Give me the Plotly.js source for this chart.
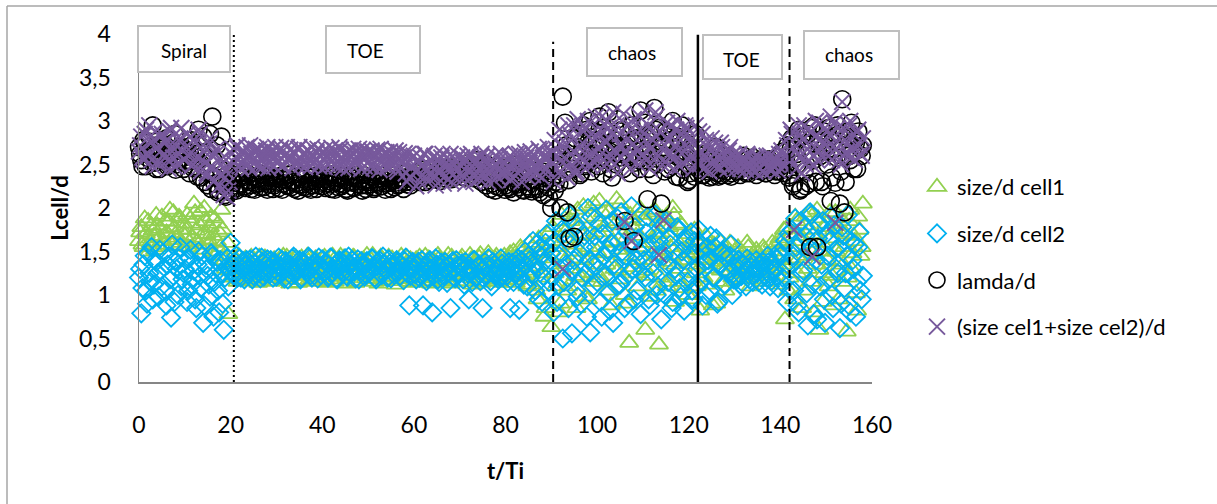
<!DOCTYPE html>
<html>
<head>
<meta charset="utf-8">
<script src="https://cdn.plot.ly/plotly-3.0.1.min.js"></script>
<style>html,body{margin:0;padding:0;background:#fff;}#chart{width:1217px;height:504px;}</style>
</head>
<body>
<div id="chart"></div>
<script>
// ---- data: t/Ti sampled every DT; "A" samples start at t=0, "B" samples are offset by DT/2 ----
const DT = 0.5;
const seriesNames = ["size/d cell1", "size/d cell2", "lamda/d", "(size cel1+size cel2)/d"];

const cell1A = [
1.62,1.78,1.55,1.70,1.85,1.60,1.74,1.52,1.80,1.66,1.90,1.58,1.72,1.84,1.63,1.95,1.70,1.56,1.88,1.75,
1.68,1.92,1.60,1.82,2.05,1.74,1.58,1.96,1.70,1.85,1.64,1.78,1.50,1.88,1.62,1.72,1.98,1.45,1.30,0.78,
1.35,1.22,1.42,1.15,1.30,1.40,1.18,1.36,1.25,1.44,1.20,1.32,1.14,1.38,1.27,1.43,1.19,1.34,1.24,1.41,
1.16,1.37,1.28,1.45,1.21,1.33,1.13,1.40,1.26,1.35,1.17,1.43,1.29,1.22,1.39,1.15,1.31,1.42,1.20,1.36,
1.25,1.44,1.14,1.34,1.23,1.40,1.18,1.30,1.45,1.21,1.37,1.13,1.32,1.27,1.43,1.16,1.35,1.24,1.41,1.19,
1.33,1.22,1.46,1.15,1.38,1.26,1.42,1.17,1.31,1.44,1.20,1.36,1.12,1.40,1.28,1.34,1.18,1.43,1.23,1.37,
1.14,1.41,1.27,1.33,1.19,1.45,1.22,1.36,1.15,1.39,1.29,1.42,1.17,1.32,1.25,1.46,1.13,1.38,1.21,1.35,
1.24,1.44,1.16,1.37,1.28,1.41,1.12,1.34,1.20,1.47,1.23,1.39,1.15,1.43,1.30,1.18,1.45,1.26,1.36,1.14,
1.40,1.22,1.48,1.31,1.17,1.44,1.27,1.52,1.20,1.38,1.46,1.12,1.55,1.33,0.95,1.50,1.25,0.75,1.42,1.58,
0.63,1.62,1.10,1.85,0.90,1.45,1.72,1.05,1.95,1.30,1.58,0.85,1.80,1.20,2.02,1.40,0.95,1.70,1.25,1.90,
1.50,2.08,1.15,1.78,1.35,1.95,0.88,1.62,1.82,1.28,2.05,1.45,1.00,1.75,0.45,1.88,1.32,1.68,1.10,1.92,
1.40,0.60,1.85,1.22,1.65,1.98,1.05,0.43,1.72,1.38,1.90,1.15,1.55,2.00,0.92,1.62,1.30,1.80,1.08,1.48,
1.70,0.95,1.52,1.25,1.60,0.82,1.42,1.55,1.12,1.48,1.35,1.58,0.90,1.45,1.28,1.52,1.05,1.40,1.60,1.20,
1.50,1.32,1.18,1.46,1.38,1.25,1.55,1.10,1.42,1.30,1.48,1.22,1.36,1.52,1.15,1.44,1.28,1.40,1.58,1.12,
1.62,1.35,0.72,1.78,1.20,1.55,0.95,1.85,1.42,1.68,1.05,1.90,1.30,1.75,1.48,0.80,1.98,0.60,1.60,1.25,
1.82,1.10,1.65,0.88,1.95,1.38,1.72,1.15,1.55,0.58,1.85,1.30,1.68,1.02,1.90,1.45,2.05
];
const cell1B = [
1.72,1.58,1.88,1.65,1.50,1.80,1.68,1.92,1.55,1.76,1.62,1.85,1.70,1.98,1.57,1.78,1.66,1.90,1.60,1.82,
1.75,1.55,1.88,1.66,1.95,1.62,1.80,1.52,2.00,1.70,1.58,1.90,1.68,1.45,1.82,1.55,1.75,1.40,1.60,1.28,
1.20,1.38,1.28,1.45,1.17,1.33,1.42,1.22,1.35,1.16,1.40,1.26,1.44,1.19,1.36,1.23,1.41,1.15,1.30,1.39,
1.24,1.42,1.18,1.34,1.44,1.20,1.37,1.27,1.43,1.14,1.32,1.39,1.22,1.45,1.18,1.35,1.26,1.41,1.16,1.33,
1.42,1.17,1.36,1.28,1.45,1.15,1.39,1.24,1.33,1.43,1.19,1.38,1.26,1.44,1.14,1.35,1.22,1.40,1.29,1.46,
1.18,1.40,1.25,1.35,1.13,1.44,1.21,1.37,1.28,1.16,1.42,1.24,1.39,1.19,1.45,1.22,1.36,1.15,1.41,1.27,
1.37,1.20,1.44,1.16,1.35,1.26,1.42,1.13,1.38,1.23,1.46,1.18,1.34,1.40,1.15,1.30,1.44,1.21,1.37,1.26,
1.41,1.15,1.35,1.22,1.46,1.19,1.38,1.27,1.43,1.14,1.36,1.24,1.48,1.20,1.33,1.42,1.16,1.39,1.25,1.45,
1.18,1.43,1.30,1.50,1.14,1.36,1.55,1.22,1.45,1.10,1.60,1.28,1.40,1.05,1.65,1.20,1.48,0.85,1.70,1.35,
1.78,1.25,1.55,0.80,1.92,1.38,1.65,1.10,1.85,1.50,1.22,1.98,1.42,1.68,0.98,1.88,1.55,1.15,2.05,1.35,
1.72,1.20,1.95,1.48,1.05,1.85,1.60,1.30,2.10,1.52,1.18,1.80,1.65,0.90,1.92,1.40,1.75,1.25,2.00,1.55,
1.85,1.28,1.60,0.98,1.95,1.45,1.70,1.20,1.88,1.52,1.10,1.78,1.35,1.92,1.45,1.15,1.82,1.40,1.65,1.00,
1.55,1.35,1.75,1.10,1.62,1.40,1.20,1.68,1.30,1.58,0.88,1.50,1.38,1.62,1.15,1.45,1.55,1.25,1.48,1.35,
1.40,1.55,1.28,1.48,1.20,1.60,1.35,1.45,1.25,1.52,1.18,1.42,1.55,1.30,1.48,1.22,1.60,1.35,1.45,1.65,
1.30,1.75,1.50,1.05,1.68,1.40,1.90,1.25,1.62,0.85,1.80,1.45,1.95,1.15,1.70,1.35,1.88,1.50,0.92,1.78,
1.40,1.95,1.22,1.75,1.50,0.95,1.88,1.35,1.70,1.20,1.98,1.48,1.62,0.82,1.75,1.55
];

const cell2A = [
1.20,0.79,1.35,1.05,1.48,1.15,0.95,1.40,1.25,1.52,1.10,1.32,0.88,1.45,0.74,1.22,1.38,1.00,1.55,1.18,
1.30,0.92,1.42,1.12,1.28,0.85,1.50,1.08,0.68,1.35,1.22,0.98,1.45,1.15,1.38,0.80,1.25,0.60,1.32,1.10,
1.60,1.25,1.38,1.20,1.42,1.30,1.18,1.40,1.28,1.35,1.22,1.44,1.32,1.19,1.38,1.26,1.41,1.24,1.36,1.30,
1.21,1.43,1.33,1.27,1.39,1.18,1.35,1.42,1.24,1.31,1.40,1.20,1.37,1.29,1.44,1.23,1.34,1.38,1.19,1.32,
1.41,1.26,1.36,1.22,1.43,1.30,1.19,1.38,1.33,1.25,1.42,1.21,1.35,1.40,1.27,1.31,1.18,1.39,1.34,1.24,
1.37,1.28,1.42,1.20,1.33,1.40,1.23,1.36,1.29,1.41,1.19,1.34,1.26,1.38,1.22,1.32,1.39,1.25,0.88,1.35,
1.30,1.18,1.38,1.24,0.88,1.33,1.20,1.40,0.80,1.28,1.35,1.15,1.37,1.22,1.31,1.26,0.85,1.39,1.19,1.34,
1.25,1.36,1.12,1.32,0.95,1.28,1.40,1.20,1.33,1.16,0.85,1.38,1.23,1.30,1.10,1.35,1.27,1.18,1.42,1.22,
1.31,1.15,0.85,1.37,1.24,1.29,0.83,1.40,1.12,1.34,1.45,1.20,1.62,1.05,1.30,1.55,0.92,1.38,1.70,1.15,
1.48,0.80,1.85,1.10,1.30,0.50,1.65,1.20,1.92,0.56,1.40,1.05,1.75,0.90,1.55,1.25,2.00,0.57,1.35,1.68,
1.15,1.82,0.75,1.45,1.98,1.02,1.60,0.68,1.30,1.88,1.12,1.50,0.85,1.72,1.25,2.02,0.95,1.40,1.65,0.78,
1.55,1.20,1.90,0.88,1.35,1.70,1.00,1.62,0.72,1.45,1.85,1.15,1.58,0.92,1.30,1.78,1.08,1.50,0.82,1.65,
1.25,1.72,0.95,1.48,1.10,1.60,0.88,1.38,1.55,1.05,1.42,1.20,1.65,0.92,1.35,1.50,1.12,1.28,1.45,1.00,
1.32,1.18,1.40,1.22,1.35,1.10,1.28,1.38,1.15,1.30,1.25,1.36,1.12,1.33,1.20,1.38,1.16,1.29,1.42,1.08,
1.45,1.20,1.62,0.92,1.38,1.75,1.05,1.55,0.80,1.85,1.28,1.68,0.65,1.95,1.12,1.50,0.72,1.80,1.35,0.95,
1.70,1.18,1.90,0.85,1.52,1.25,0.62,1.78,1.08,1.45,0.88,1.62,1.30,0.75,1.55,1.05,1.22
];
const cell2B = [
1.30,1.08,1.45,0.90,1.25,1.55,1.12,1.38,0.98,1.28,1.48,1.05,1.35,1.18,1.58,0.92,1.30,1.42,1.10,1.25,
1.40,1.05,1.52,1.18,0.95,1.35,1.22,1.45,0.88,1.30,1.12,1.48,0.75,1.25,1.05,1.40,0.90,1.20,1.42,1.28,
1.35,1.22,1.45,1.28,1.20,1.39,1.33,1.24,1.41,1.18,1.36,1.30,1.25,1.43,1.21,1.34,1.29,1.40,1.20,1.37,
1.33,1.24,1.40,1.19,1.36,1.30,1.22,1.44,1.27,1.35,1.18,1.39,1.31,1.25,1.42,1.20,1.37,1.28,1.43,1.23,
1.30,1.38,1.20,1.43,1.26,1.34,1.18,1.40,1.29,1.36,1.22,1.44,1.25,1.32,1.19,1.41,1.28,1.35,1.21,1.39,
1.26,1.42,1.31,1.18,1.38,1.24,1.44,1.29,1.20,1.36,1.32,1.23,1.40,1.27,1.35,1.17,1.43,1.30,1.22,1.38,
1.24,1.35,1.20,1.40,1.28,1.16,1.37,1.30,1.22,1.42,1.18,1.33,1.26,1.38,1.14,1.35,1.28,1.21,1.40,1.25,
1.32,1.18,1.38,1.25,1.30,1.15,1.40,1.22,1.35,1.28,1.19,1.33,1.42,1.16,1.38,1.24,1.30,1.20,1.36,1.27,
1.22,1.38,1.28,1.15,1.35,1.42,1.20,1.30,1.50,1.10,1.40,1.25,1.35,1.58,0.95,1.45,1.22,1.60,1.05,1.40,
1.20,1.62,0.92,1.45,1.75,1.15,1.35,0.85,1.58,1.28,1.82,0.98,1.48,1.20,1.68,0.75,1.40,1.90,1.10,1.55,
1.38,0.92,1.70,1.22,1.52,0.82,1.85,1.35,1.10,1.62,1.95,1.18,1.45,0.90,1.58,1.30,1.78,1.05,1.50,1.25,
1.40,1.72,0.95,1.58,1.25,1.92,1.10,1.45,1.80,1.00,1.35,1.65,0.85,1.50,1.22,1.75,0.98,1.40,1.62,1.15,
1.45,1.05,1.62,1.30,1.75,1.15,1.50,1.00,1.40,1.68,1.20,1.55,0.90,1.35,1.48,1.12,1.42,1.25,1.58,1.18,
1.22,1.40,1.12,1.35,1.28,1.42,1.18,1.32,1.25,1.40,1.15,1.30,1.38,1.22,1.45,1.10,1.35,1.28,1.20,1.50,
1.15,1.55,1.30,1.70,1.05,1.45,1.88,0.88,1.62,1.25,1.78,1.02,1.50,1.92,0.78,1.40,1.65,1.10,1.85,0.68,
1.45,1.62,1.00,1.80,1.30,1.55,0.90,1.68,1.25,1.92,0.80,1.40,1.58,1.15,1.72,0.95
];

const lamdaA = [
2.70,2.55,2.78,2.48,2.65,2.60,2.95,2.52,2.72,2.45,2.68,2.58,2.80,2.50,2.62,2.75,2.44,2.66,2.56,2.70,
2.52,2.64,2.40,2.72,2.48,2.58,2.90,2.35,2.82,2.42,2.26,2.85,3.05,2.28,2.72,2.20,2.82,2.25,2.13,2.30,
2.18,2.32,2.22,2.38,2.28,2.35,2.25,2.40,2.30,2.22,2.36,2.27,2.33,2.24,2.38,2.29,2.21,2.35,2.31,2.26,
2.34,2.23,2.37,2.28,2.32,2.25,2.39,2.30,2.22,2.36,2.27,2.33,2.24,2.38,2.29,2.21,2.35,2.31,2.26,2.37,
2.25,2.33,2.28,2.38,2.22,2.35,2.30,2.24,2.37,2.27,2.32,2.20,2.36,2.29,2.23,2.34,2.31,2.26,2.38,2.22,
2.33,2.27,2.36,2.24,2.30,2.38,2.25,2.32,2.28,2.35,2.22,2.37,2.29,2.26,2.34,2.31,2.40,2.27,2.36,2.30,
2.38,2.32,2.42,2.35,2.45,2.30,2.40,2.36,2.44,2.33,2.41,2.37,2.46,2.34,2.43,2.39,2.47,2.35,2.42,2.38,
2.44,2.36,2.48,2.40,2.52,2.38,2.45,2.42,2.55,2.37,2.46,2.41,2.50,2.32,2.28,2.44,2.25,2.48,2.30,2.42,
2.26,2.45,2.22,2.40,2.28,2.50,2.24,2.36,2.20,2.44,2.30,2.22,2.48,2.25,2.38,2.18,2.42,2.27,2.35,2.12,
2.00,2.45,2.30,2.60,2.00,3.28,2.98,1.95,1.65,2.55,1.67,2.70,2.85,2.40,2.95,2.50,2.75,3.00,2.62,2.88,
2.78,3.05,2.55,2.92,2.65,3.10,2.45,2.85,2.70,3.02,2.58,2.90,1.85,2.75,2.62,2.95,1.62,2.80,2.55,3.12,
2.72,2.98,2.10,2.85,2.60,3.15,2.50,2.92,2.05,2.70,2.88,2.45,2.78,3.00,2.55,2.82,2.35,2.95,2.62,2.75,
2.32,2.68,2.50,2.85,2.40,2.55,2.38,2.62,2.45,2.35,2.58,2.42,2.70,2.36,2.52,2.44,2.60,2.38,2.48,2.40,
2.55,2.42,2.50,2.46,2.60,2.40,2.52,2.45,2.58,2.43,2.48,2.55,2.44,2.50,2.40,2.56,2.47,2.52,2.42,2.58,
2.50,2.65,2.45,2.72,2.38,2.80,2.28,2.62,2.90,2.22,2.70,2.25,2.85,1.55,2.60,2.95,1.55,2.75,2.30,2.88,
2.65,2.92,2.08,2.78,2.29,2.95,2.05,3.25,1.95,2.82,2.60,2.98,2.45,2.75,2.88,2.68,2.72
];
const lamdaB = [
2.62,2.48,2.75,2.58,2.82,2.52,2.68,2.45,2.78,2.60,2.55,2.72,2.48,2.65,2.58,2.85,2.50,2.70,2.62,2.45,
2.66,2.55,2.78,2.46,2.62,2.36,2.72,2.50,2.30,2.65,2.40,2.22,2.55,2.35,2.18,2.45,2.28,2.15,2.38,2.20,
2.25,2.30,2.20,2.34,2.27,2.38,2.23,2.32,2.26,2.36,2.21,2.33,2.28,2.39,2.24,2.31,2.27,2.37,2.22,2.34,
2.29,2.36,2.21,2.33,2.26,2.38,2.24,2.32,2.28,2.20,2.35,2.27,2.39,2.23,2.31,2.26,2.37,2.22,2.33,2.29,
2.36,2.23,2.31,2.27,2.39,2.21,2.34,2.28,2.25,2.37,2.22,2.30,2.35,2.24,2.38,2.27,2.33,2.20,2.32,2.26,
2.30,2.36,2.22,2.33,2.28,2.25,2.37,2.21,2.34,2.29,2.38,2.24,2.32,2.27,2.35,2.22,2.30,2.36,2.26,2.33,
2.34,2.40,2.30,2.44,2.36,2.42,2.32,2.46,2.38,2.35,2.43,2.31,2.40,2.45,2.36,2.41,2.33,2.44,2.38,2.42,
2.40,2.46,2.35,2.43,2.38,2.48,2.34,2.41,2.45,2.30,2.39,2.26,2.44,2.22,2.36,2.20,2.40,2.24,2.35,2.21,
2.38,2.24,2.42,2.18,2.34,2.27,2.40,2.21,2.46,2.25,2.36,2.19,2.32,2.43,2.22,2.38,2.15,2.30,2.24,2.40,
2.35,2.20,2.50,2.28,2.62,2.40,2.72,2.32,2.58,2.45,2.80,2.52,2.38,2.68,2.48,2.90,2.55,2.42,2.78,2.60,
2.48,2.70,2.40,2.82,2.55,2.65,2.35,2.78,2.50,2.62,2.88,2.45,2.70,2.58,2.40,2.76,2.52,2.85,2.45,2.66,
2.55,2.80,2.45,2.68,2.38,2.90,2.52,2.62,2.75,2.42,2.60,2.85,2.48,2.70,2.36,2.58,2.78,2.44,2.65,2.30,
2.40,2.55,2.36,2.62,2.44,2.50,2.38,2.58,2.42,2.48,2.36,2.55,2.40,2.46,2.38,2.52,2.42,2.48,2.36,2.50,
2.44,2.52,2.38,2.48,2.42,2.55,2.40,2.50,2.44,2.38,2.52,2.42,2.48,2.40,2.55,2.44,2.50,2.38,2.46,2.42,
2.48,2.40,2.58,2.35,2.68,2.25,2.75,2.50,2.20,2.82,2.42,2.65,2.28,2.92,2.55,2.30,2.78,2.60,2.25,2.70,
2.50,2.80,2.35,2.68,2.58,2.85,2.42,2.72,2.30,2.88,2.55,2.65,2.78,2.45,2.70,2.60
];

const sumA = [
2.65,2.82,2.55,2.90,2.60,2.75,2.48,2.88,2.70,2.52,2.85,2.62,2.78,2.45,2.92,2.58,2.72,2.50,2.80,2.66,
2.55,2.85,2.62,2.48,2.78,2.58,2.90,2.42,2.72,2.52,2.38,2.80,2.60,2.32,2.68,2.25,2.50,2.15,2.42,2.20,
2.50,2.68,2.58,2.72,2.48,2.65,2.55,2.70,2.46,2.62,2.56,2.68,2.50,2.64,2.47,2.60,2.70,2.52,2.66,2.48,
2.63,2.55,2.69,2.49,2.61,2.57,2.67,2.46,2.64,2.53,2.70,2.50,2.62,2.58,2.66,2.48,2.60,2.55,2.68,2.51,
2.64,2.47,2.61,2.56,2.69,2.50,2.63,2.54,2.67,2.46,2.60,2.58,2.66,2.49,2.62,2.53,2.68,2.45,2.59,2.57,
2.65,2.48,2.62,2.52,2.67,2.44,2.60,2.55,2.64,2.47,2.58,2.50,2.66,2.42,2.57,2.53,2.63,2.30,2.55,2.48,
2.60,2.25,2.52,2.58,2.38,2.62,2.45,2.55,2.35,2.60,2.48,2.40,2.58,2.28,2.52,2.45,2.62,2.38,2.55,2.32,
2.50,2.58,2.35,2.55,2.45,2.62,2.30,2.52,2.40,2.58,2.48,2.36,2.60,2.42,2.55,2.32,2.50,2.45,2.62,2.38,
2.52,2.40,2.60,2.35,2.55,2.46,2.62,2.30,2.50,2.58,2.42,2.65,2.38,2.55,2.48,2.66,2.35,2.60,2.45,2.62,
2.55,2.30,2.68,2.40,2.62,1.30,2.75,2.35,2.85,2.50,2.95,2.42,2.70,2.58,2.88,2.45,3.00,2.62,2.78,2.52,
2.82,2.60,3.05,2.48,2.75,2.92,2.55,3.10,2.65,2.40,2.85,2.70,1.84,2.95,2.58,1.62,3.02,2.68,2.50,2.90,
2.62,3.12,2.75,2.45,2.88,2.55,3.05,1.46,2.68,1.86,2.80,2.50,2.95,2.60,2.72,3.00,2.48,2.85,2.65,2.92,
2.55,2.78,2.45,2.95,2.62,2.50,2.85,2.58,2.70,2.42,2.80,2.55,2.65,2.48,2.75,2.52,2.62,2.45,2.70,2.50,
2.58,2.46,2.62,2.50,2.55,2.44,2.60,2.48,2.52,2.42,2.58,2.46,2.55,2.50,2.60,2.45,2.52,2.48,2.56,2.43,
2.55,2.62,2.48,2.72,2.58,2.85,1.75,2.45,2.95,2.60,2.78,2.50,2.90,2.65,1.44,2.82,2.55,2.98,2.68,2.75,
2.88,2.60,3.05,2.70,1.83,2.92,2.55,3.22,2.78,2.65,2.95,2.58,2.85,2.72,2.90,2.62,2.80
];
const sumB = [
2.72,2.58,2.85,2.62,2.95,2.55,2.78,2.68,2.50,2.82,2.60,2.75,2.55,2.88,2.65,2.48,2.80,2.62,2.92,2.56,
2.70,2.60,2.82,2.50,2.75,2.45,2.85,2.55,2.65,2.40,2.74,2.48,2.30,2.62,2.40,2.55,2.22,2.35,2.12,2.30,
2.62,2.52,2.70,2.56,2.45,2.66,2.58,2.50,2.72,2.54,2.64,2.48,2.68,2.58,2.52,2.66,2.46,2.62,2.56,2.70,
2.52,2.66,2.48,2.60,2.70,2.54,2.58,2.65,2.50,2.68,2.56,2.62,2.47,2.66,2.54,2.70,2.52,2.64,2.48,2.60,
2.56,2.68,2.50,2.62,2.54,2.66,2.48,2.70,2.58,2.52,2.64,2.46,2.60,2.68,2.55,2.50,2.62,2.66,2.48,2.64,
2.54,2.66,2.46,2.60,2.56,2.68,2.50,2.62,2.48,2.65,2.55,2.60,2.45,2.64,2.52,2.58,2.40,2.62,2.36,2.58,
2.42,2.55,2.30,2.48,2.62,2.32,2.50,2.40,2.58,2.26,2.54,2.44,2.62,2.36,2.48,2.56,2.30,2.50,2.42,2.60,
2.40,2.52,2.28,2.60,2.44,2.38,2.56,2.48,2.34,2.62,2.40,2.55,2.30,2.50,2.44,2.60,2.36,2.56,2.42,2.52,
2.44,2.58,2.32,2.50,2.62,2.40,2.55,2.45,2.64,2.36,2.52,2.44,2.60,2.40,2.68,2.50,2.58,2.44,2.70,2.52,
2.62,2.78,2.45,2.90,2.55,2.70,2.48,2.95,2.62,2.80,2.40,3.02,2.68,2.55,2.92,2.70,2.50,2.85,2.62,3.05,
2.68,2.90,2.55,2.78,3.00,2.62,2.85,2.50,2.95,2.72,2.58,3.08,2.66,2.80,2.45,2.92,2.62,2.78,3.05,2.60,
2.85,2.55,2.95,2.68,2.78,3.10,2.60,2.88,2.50,2.72,2.98,2.62,2.82,2.45,2.90,2.66,2.78,2.52,2.95,2.70,
2.82,2.60,2.72,2.52,2.88,2.65,2.45,2.78,2.55,2.68,2.50,2.75,2.58,2.45,2.70,2.60,2.52,2.66,2.48,2.62,
2.50,2.60,2.45,2.55,2.48,2.62,2.52,2.44,2.58,2.50,2.46,2.56,2.42,2.54,2.48,2.60,2.44,2.55,2.50,2.62,
2.66,2.48,2.78,2.58,2.90,2.50,2.72,2.62,2.85,2.40,2.95,2.68,2.55,2.88,2.48,3.00,2.66,2.80,2.58,2.92,
2.70,2.85,2.55,2.98,2.68,2.80,2.50,2.92,2.62,2.75,3.00,2.66,2.55,2.88,2.72,2.60
];

// regime boundaries (t/Ti) and labels
const boundaryT = [20.7, 90.4, 122, 142];
const boundaryTop = [3.99, 3.91, 3.99, 3.97];
const boundaryDash = ["dot", "dash", "solid", "dash"];
const regimeLabels = ["Spiral", "TOE", "chaos", "TOE", "chaos"];

// ---- layout geometry (pixels) ----
const W = 1217, H = 504;
const M = {l: 139, r: 345, t: 34, b: 122};
const PW = W - M.l - M.r, PH = H - M.t - M.b;
const px = x => (x - M.l) / PW;
const py = y => (H - M.b - y) / PH;

const boxes = [
  {x0: 138, x1: 230, y0: 26, y1: 72, tx: 184, ty: 50},
  {x0: 326, x1: 420, y0: 26, y1: 73, tx: 365, ty: 50},
  {x0: 587, x1: 682, y0: 28, y1: 76, tx: 632, ty: 52},
  {x0: 703, x1: 782, y0: 35, y1: 79, tx: 741, ty: 59},
  {x0: 804, x1: 899, y0: 31, y1: 79, tx: 849, ty: 54}
];

const tA = arr => arr.map((_, i) => i * DT);
const tB = arr => arr.map((_, i) => i * DT + DT / 2);
const both = (a, b) => ({x: tA(a).concat(tB(b)), y: a.concat(b)});
const FONT = "Lato, 'Open Sans', sans-serif";

const traces = [
  Object.assign(both(cell1A, cell1B), {name: seriesNames[0], marker: {symbol: "triangle-up-open", size: 16, color: "#92D050", line: {color: "#92D050", width: 1.8}}}),
  Object.assign(both(cell2A, cell2B), {name: seriesNames[1], marker: {symbol: "diamond-open", size: 14, color: "#00B0F0", line: {color: "#00B0F0", width: 1.8}}}),
  Object.assign(both(lamdaA, lamdaB), {name: seriesNames[2], marker: {symbol: "circle-open", size: 17, color: "#000000", line: {color: "#000000", width: 1.6}}}),
  Object.assign(both(sumA, sumB), {name: seriesNames[3], marker: {symbol: "x-thin-open", size: 16, color: "#77599C", line: {color: "#77599C", width: 2}}})
].map((tr, i) => Object.assign({type: "scatter", mode: "markers", legendgroup: "g" + i, cliponaxis: false}, tr));

const shapes = [];
// outer chart border (left and top edges)
shapes.push({type: "line", xref: "paper", yref: "paper", x0: px(7), x1: px(7), y0: py(6), y1: py(H + 5), line: {color: "#A6A6A6", width: 1.5}, layer: "below"});
shapes.push({type: "line", xref: "paper", yref: "paper", x0: px(7), x1: px(W + 5), y0: py(6), y1: py(6), line: {color: "#A6A6A6", width: 1.5}, layer: "below"});
boundaryT.forEach((t, i) => {
  shapes.push({type: "line", xref: "x", yref: "y", x0: t, x1: t, y0: 0, y1: boundaryTop[i], layer: "above",
    line: {color: "#000000", width: boundaryDash[i] === "solid" ? 2.5 : 2, dash: boundaryDash[i] === "dash" ? "8px,5px" : (boundaryDash[i] === "dot" ? "2px,3px" : "solid")}});
});
const annotations = [];
boxes.forEach((b, i) => {
  shapes.push({type: "rect", xref: "paper", yref: "paper", x0: px(b.x0), x1: px(b.x1), y0: py(b.y1), y1: py(b.y0),
    fillcolor: "#FFFFFF", line: {color: "#BFBFBF", width: 2}, layer: "above"});
  annotations.push({xref: "paper", yref: "paper", x: px(b.tx), y: py(b.ty), xanchor: "center", yanchor: "middle",
    text: regimeLabels[i], showarrow: false, font: {family: FONT, size: 19, color: "#000"}});
});

const layout = {
  width: W, height: H,
  margin: M,
  paper_bgcolor: "#FFFFFF", plot_bgcolor: "#FFFFFF",
  separators: ", ",
  font: {family: FONT, color: "#000"},
  showlegend: true,
  legend: {x: px(917), y: py(166), xanchor: "left", yanchor: "top", font: {family: FONT, size: 22, color: "#000"},
    tracegroupgap: 15, bgcolor: "rgba(0,0,0,0)"},
  xaxis: {range: [0, 160], dtick: 20, tick0: 0, showgrid: false, zeroline: false, showline: true, linecolor: "#868686", linewidth: 1.5,
    ticks: "outside", ticklen: 22, tickcolor: "rgba(0,0,0,0)", tickfont: {family: FONT, size: 23},
    title: {text: "<b>t/Ti</b>", font: {family: FONT, size: 22}, standoff: 26}},
  yaxis: {range: [0, 4], dtick: 0.5, tick0: 0, showgrid: false, zeroline: false, showline: true, linecolor: "#868686", linewidth: 1.5,
    ticks: "outside", ticklen: 22, tickcolor: "rgba(0,0,0,0)", tickfont: {family: FONT, size: 23},
    title: {text: "<b>Lcell/d</b>", font: {family: FONT, size: 22}, standoff: 4}},
  shapes: shapes,
  annotations: annotations
};

Plotly.newPlot("chart", traces, layout, {displayModeBar: false, staticPlot: true});
</script>
</body>
</html>
